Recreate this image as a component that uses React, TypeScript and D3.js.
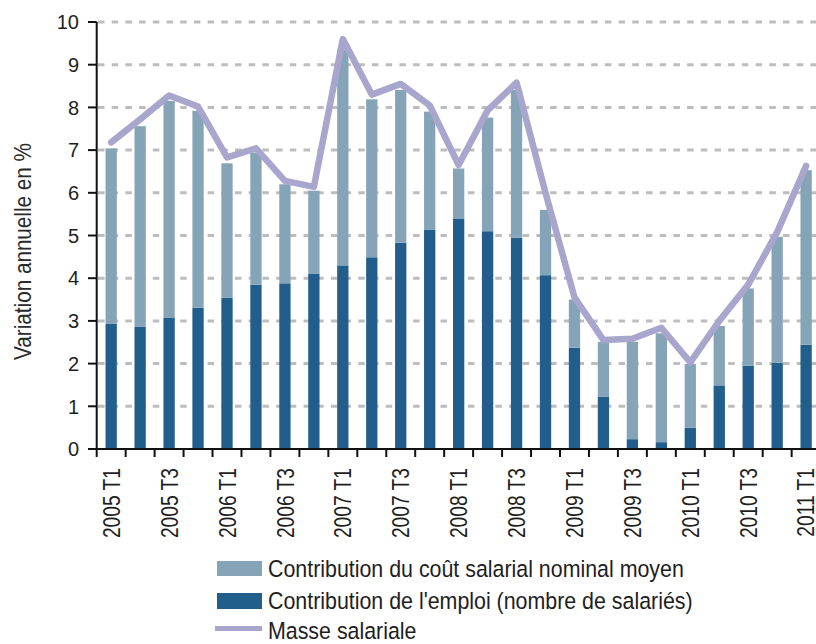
import React from "react";
import * as d3 from "d3";

const quarters = [
  "2005 T1", "2005 T2", "2005 T3", "2005 T4",
  "2006 T1", "2006 T2", "2006 T3", "2006 T4",
  "2007 T1", "2007 T2", "2007 T3", "2007 T4",
  "2008 T1", "2008 T2", "2008 T3", "2008 T4",
  "2009 T1", "2009 T2", "2009 T3", "2009 T4",
  "2010 T1", "2010 T2", "2010 T3", "2010 T4",
  "2011 T1",
];

// Contribution de l'emploi (nombre de salariés)
const emploi = [
  2.93, 2.86, 3.08, 3.31, 3.54, 3.85, 3.88, 4.11, 4.30, 4.49, 4.83, 5.14, 5.40,
  5.10, 4.95, 4.07, 2.37, 1.22, 0.23, 0.16, 0.50, 1.49, 1.95, 2.02, 2.44,
];

// Contribution du coût salarial nominal moyen
const coutSalarial = [
  4.11, 4.70, 5.07, 4.61, 3.15, 3.09, 2.32, 1.94, 5.05, 3.70, 3.58, 2.76, 1.17,
  2.66, 3.46, 1.53, 1.13, 1.29, 2.28, 2.55, 1.49, 1.39, 1.81, 2.95, 4.09,
];

// Masse salariale
const masseSalariale = [
  7.18, 7.72, 8.28, 8.02, 6.83, 7.04, 6.28, 6.14, 9.60, 8.30, 8.55, 8.05, 6.65,
  7.93, 8.58, 6.00, 3.55, 2.55, 2.58, 2.84, 2.03, 3.00, 3.85, 5.08, 6.63,
];

const yTicks = [0, 1, 2, 3, 4, 5, 6, 7, 8, 9, 10];
const xTickLabels = quarters.filter((_, i) => i % 2 === 0);

const legendLabels = [
  "Contribution du coût salarial nominal moyen",
  "Contribution de l'emploi (nombre de salariés)",
  "Masse salariale",
];

const W = 816;
const H = 644;
const LIGHT = "#86a4b8";
const DARK = "#215e8b";
const LINE = "#a8a6cd";
const GRID = "#bdbdbd";
const TXT = "#1e1e1e";

export default function App() {
  const x = d3
    .scaleBand<string>()
    .domain(quarters)
    .range([96.7, 820.6])
    .padding(0);
  const y = d3.scaleLinear().domain([0, 10]).range([449, 22]);
  const bw = x.bandwidth();
  const barW = bw * 0.39;

  const rows = quarters.map((q, i) => ({
    q,
    emploi: emploi[i],
    cout: coutSalarial[i],
  }));
  const stacked = d3.stack<any>().keys(["emploi", "cout"])(rows);
  const colors = [DARK, LIGHT];

  const line = d3
    .line<number>()
    .x((_, i) => (x(quarters[i]) as number) + bw / 2)
    .y((d) => y(d));

  const fontMain = "'Liberation Sans', Arial, sans-serif";

  const legendX = 217;
  const legendTextX = 268;

  return (
    <svg
      width={W}
      height={H}
      style={{ position: "absolute", left: 0, top: 0, background: "#fff" }}
    >
      <rect x={0} y={0} width={W} height={H} fill="#fff" />
      {/* grid */}
      {yTicks
        .filter((t) => t > 0)
        .map((t) => (
          <line
            key={"g" + t}
            x1={98}
            x2={W}
            y1={y(t)}
            y2={y(t)}
            stroke={GRID}
            strokeWidth={3}
            strokeDasharray="6.5 7.2"
          />
        ))}
      {/* bars */}
      {stacked.map((s, k) =>
        s.map((d, i) => (
          <rect
            key={k + "-" + i}
            x={(x(quarters[i]) as number) + (bw - barW) / 2}
            y={y(d[1])}
            width={barW}
            height={y(d[0]) - y(d[1])}
            fill={colors[k]}
          />
        ))
      )}
      {/* line */}
      <path
        d={line(masseSalariale) || ""}
        fill="none"
        stroke={LINE}
        strokeWidth={6.5}
        strokeLinejoin="round"
        strokeLinecap="round"
      />
      {/* y axis */}
      <line x1={96.7} x2={96.7} y1={y(10)} y2={y(0)} stroke="#111" strokeWidth={2} />
      {yTicks.map((t) => (
        <g key={"yt" + t}>
          <line x1={88} x2={96.7} y1={y(t)} y2={y(t)} stroke="#111" strokeWidth={2} />
          <text
            x={79}
            y={y(t)}
            dy="0.36em"
            textAnchor="end"
            fontFamily={fontMain}
            fontSize={20}
            fill={TXT}
          >
            {t}
          </text>
        </g>
      ))}
      {/* x axis */}
      <line x1={88} x2={W} y1={y(0)} y2={y(0)} stroke="#111" strokeWidth={2} />
      {quarters.map((q) => (
        <line
          key={"xt" + q}
          x1={x(q) as number}
          x2={x(q) as number}
          y1={y(0)}
          y2={y(0) + 8}
          stroke="#111"
          strokeWidth={2}
        />
      ))}
      {xTickLabels.map((q) => {
        const cx = Math.min((x(q) as number) + bw / 2, 805);
        const ty = 468;
        return (
          <text
            key={"xl" + q}
            transform={`translate(${cx},${ty}) rotate(-90) scale(0.8,1)`}
            textAnchor="end"
            dy="0.36em"
            fontFamily={fontMain}
            fontSize={24}
            fill={TXT}
          >
            {q}
          </text>
        );
      })}
      {/* y title */}
      <text
        transform={`translate(23,${(140 + 363) / 2}) rotate(-90) scale(0.88,1)`}
        textAnchor="middle"
        dy="0.36em"
        fontFamily={fontMain}
        fontSize={23.5}
        fill="#2a2a2a"
      >
        Variation annuelle en %
      </text>
      {/* legend */}
      <rect x={legendX} y={561} width={45} height={15} fill={LIGHT} />
      <rect x={legendX} y={593} width={45} height={16} fill={DARK} />
      <line
        x1={legendX - 2}
        x2={legendX + 45}
        y1={628.5}
        y2={628.5}
        stroke={LINE}
        strokeWidth={5}
      />
      {legendLabels.map((l, i) => (
        <text
          key={"lg" + i}
          transform={`translate(${legendTextX},${[568.5, 601, 630.5][i]}) scale(0.91,1)`}
          dy="0.36em"
          fontFamily={fontMain}
          fontSize={23.5}
          fill={TXT}
        >
          {l}
        </text>
      ))}
    </svg>
  );
}
